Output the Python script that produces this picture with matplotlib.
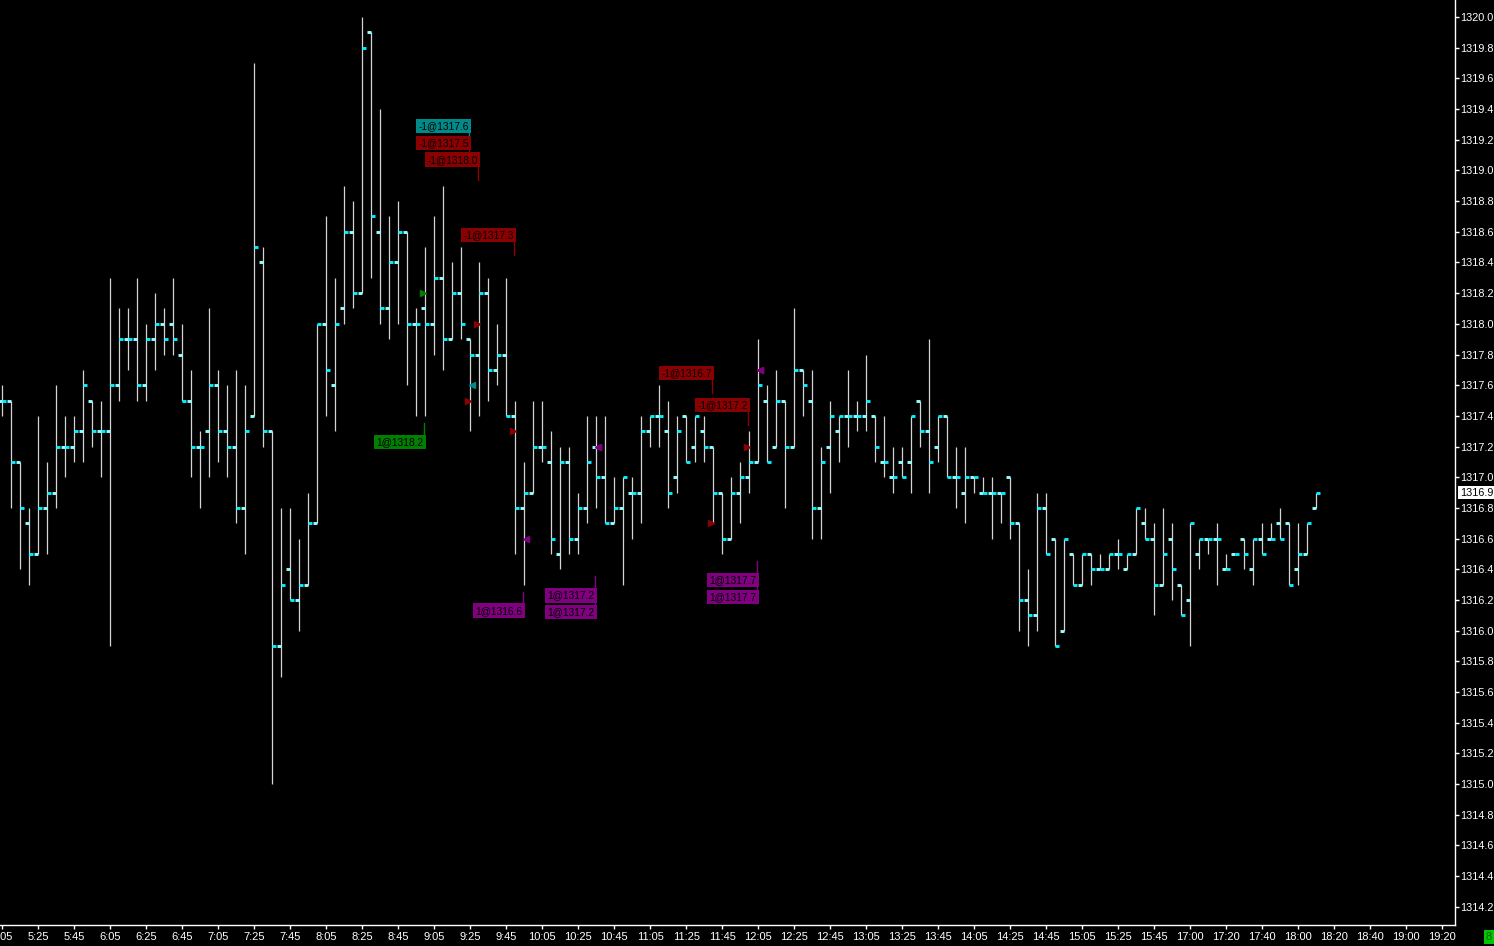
import matplotlib

matplotlib.use("Agg")
import matplotlib.pyplot as plt  # noqa: E402
import numpy as np  # noqa: E402

plt.rcParams["font.family"] = ["Liberation Sans", "DejaVu Sans"]

# 5 minute bars
opens = [
    1317.5, 1317.5, 1317.1, 1316.7, 1316.5, 1316.8, 1316.9, 1317.2, 1317.2, 1317.3,
    1317.5, 1317.3, 1317.3, 1317.6, 1317.9, 1317.9, 1317.6, 1317.9, 1318.0, 1318.0,
    1317.8, 1317.5, 1317.2, 1317.3, 1317.6, 1317.3, 1317.2, 1316.8, 1317.4, 1318.4,
    1317.3, 1315.9, 1316.4, 1316.2, 1316.3, 1316.7, 1318.0, 1317.6, 1318.1, 1318.6,
    1318.2, 1319.9, 1318.6, 1318.1, 1318.4, 1318.6, 1318.0, 1318.1, 1318.0, 1318.3,
    1317.9, 1318.2, 1317.9, 1317.8, 1318.2, 1317.7, 1317.8, 1317.4, 1316.8, 1316.9,
    1317.2, 1317.1, 1316.5, 1317.1, 1316.6, 1316.8, 1317.2, 1317.0, 1316.7, 1316.8,
    1316.9, 1316.9, 1317.3, 1317.4, 1317.3, 1317.0, 1317.4, 1317.2, 1317.3, 1317.2,
    1316.9, 1316.6, 1316.9, 1317.0, 1317.1, 1317.5, 1317.2, 1317.5, 1317.2, 1317.7,
    1317.5, 1316.8, 1317.2, 1317.3, 1317.4, 1317.4, 1317.4, 1317.4, 1317.1, 1317.0,
    1317.1, 1317.1, 1317.5, 1317.3, 1317.2, 1317.4, 1317.0, 1316.9, 1317.0, 1316.9,
    1316.9, 1316.9, 1317.0, 1316.7, 1316.2, 1316.1, 1316.8, 1316.6, 1316.0, 1316.5,
    1316.3, 1316.5, 1316.4, 1316.4, 1316.5, 1316.4, 1316.5, 1316.7, 1316.6, 1316.3,
    1316.6, 1316.3, 1316.2, 1316.5, 1316.6, 1316.6, 1316.4, 1316.5, 1316.6, 1316.4,
    1316.6, 1316.6, 1316.7, 1316.7, 1316.4, 1316.5, 1316.8,
]
highs = [
    1317.6, 1317.5, 1317.1, 1316.8, 1317.4, 1317.1, 1317.6, 1317.4, 1317.4, 1317.7,
    1317.5, 1317.5, 1318.3, 1318.1, 1318.1, 1318.3, 1318.0, 1318.2, 1318.1, 1318.3,
    1318.0, 1317.7, 1317.3, 1318.1, 1317.7, 1317.6, 1317.7, 1317.6, 1319.7, 1318.5,
    1317.3, 1316.8, 1316.8, 1316.6, 1316.9, 1318.0, 1318.7, 1318.3, 1318.9, 1318.8,
    1320.0, 1319.9, 1319.4, 1318.7, 1318.8, 1318.6, 1318.1, 1318.5, 1318.7, 1318.9,
    1318.4, 1318.5, 1317.9, 1318.4, 1318.3, 1318.0, 1318.3, 1317.5, 1317.1, 1317.5,
    1317.5, 1317.3, 1317.2, 1317.2, 1316.9, 1317.4, 1317.4, 1317.4, 1317.0, 1317.0,
    1317.0, 1317.4, 1317.4, 1317.6, 1317.5, 1317.4, 1317.4, 1317.4, 1317.4, 1317.2,
    1316.9, 1317.0, 1317.1, 1317.3, 1317.9, 1317.6, 1317.7, 1317.5, 1318.1, 1317.7,
    1317.7, 1317.2, 1317.5, 1317.4, 1317.7, 1317.5, 1317.8, 1317.4, 1317.4, 1317.2,
    1317.2, 1317.4, 1317.5, 1317.9, 1317.4, 1317.4, 1317.2, 1317.2, 1317.0, 1317.0,
    1317.0, 1316.9, 1317.0, 1316.7, 1316.4, 1316.9, 1316.9, 1316.6, 1316.6, 1316.5,
    1316.5, 1316.5, 1316.5, 1316.5, 1316.6, 1316.5, 1316.8, 1316.8, 1316.7, 1316.8,
    1316.7, 1316.3, 1316.7, 1316.6, 1316.6, 1316.7, 1316.5, 1316.5, 1316.6, 1316.6,
    1316.7, 1316.7, 1316.8, 1316.7, 1316.7, 1316.7, 1316.9,
]
lows = [
    1317.4, 1316.8, 1316.4, 1316.3, 1316.5, 1316.5, 1316.8, 1317.0, 1317.1, 1317.1,
    1317.2, 1317.0, 1315.9, 1317.5, 1317.7, 1317.5, 1317.5, 1317.7, 1317.8, 1317.8,
    1317.5, 1317.0, 1316.8, 1317.0, 1317.1, 1317.0, 1316.7, 1316.5, 1317.4, 1317.2,
    1315.0, 1315.7, 1316.2, 1316.0, 1316.3, 1316.7, 1317.4, 1317.3, 1318.0, 1318.1,
    1318.2, 1318.3, 1318.0, 1317.9, 1318.0, 1317.6, 1317.4, 1317.4, 1317.8, 1317.7,
    1317.9, 1317.9, 1317.3, 1317.4, 1317.5, 1317.6, 1317.4, 1316.5, 1316.3, 1316.9,
    1317.1, 1316.5, 1316.4, 1316.5, 1316.5, 1316.7, 1316.8, 1316.7, 1316.7, 1316.3,
    1316.6, 1316.7, 1317.2, 1317.2, 1316.8, 1316.9, 1317.1, 1317.1, 1317.1, 1316.7,
    1316.5, 1316.6, 1316.7, 1316.9, 1317.1, 1317.1, 1317.2, 1316.8, 1317.2, 1317.4,
    1316.6, 1316.6, 1316.9, 1317.1, 1317.2, 1317.3, 1317.3, 1317.1, 1317.0, 1316.9,
    1317.0, 1316.9, 1317.2, 1316.9, 1317.1, 1317.0, 1316.8, 1316.7, 1316.9, 1316.9,
    1316.6, 1316.7, 1316.6, 1316.0, 1315.9, 1316.0, 1316.5, 1315.9, 1316.0, 1316.3,
    1316.3, 1316.3, 1316.4, 1316.4, 1316.4, 1316.4, 1316.5, 1316.6, 1316.1, 1316.3,
    1316.2, 1316.1, 1315.9, 1316.4, 1316.5, 1316.3, 1316.4, 1316.5, 1316.4, 1316.3,
    1316.5, 1316.6, 1316.6, 1316.3, 1316.3, 1316.5, 1316.8,
]
closes = [
    1317.5, 1317.1, 1316.8, 1316.5, 1316.8, 1316.9, 1317.2, 1317.2, 1317.3, 1317.6,
    1317.3, 1317.3, 1317.6, 1317.9, 1317.9, 1317.6, 1317.9, 1318.0, 1317.9, 1317.9,
    1317.5, 1317.2, 1317.2, 1317.6, 1317.3, 1317.2, 1316.8, 1317.3, 1318.5, 1317.3,
    1315.9, 1316.3, 1316.2, 1316.3, 1316.7, 1318.0, 1317.7, 1318.0, 1318.6, 1318.2,
    1319.8, 1318.7, 1318.1, 1318.4, 1318.6, 1318.0, 1318.0, 1318.0, 1318.3, 1317.9,
    1318.2, 1318.0, 1317.8, 1318.2, 1317.7, 1317.8, 1317.4, 1316.8, 1316.9, 1317.2,
    1317.2, 1316.6, 1317.1, 1316.6, 1316.8, 1317.1, 1317.0, 1316.7, 1316.8, 1317.0,
    1316.9, 1317.3, 1317.4, 1317.4, 1316.9, 1317.3, 1317.1, 1317.4, 1317.2, 1316.9,
    1316.6, 1316.9, 1317.0, 1317.1, 1317.6, 1317.1, 1317.5, 1317.2, 1317.7, 1317.6,
    1316.8, 1317.1, 1317.4, 1317.4, 1317.4, 1317.4, 1317.5, 1317.2, 1317.1, 1317.0,
    1317.0, 1317.4, 1317.3, 1317.1, 1317.4, 1317.0, 1317.0, 1317.0, 1317.0, 1316.9,
    1316.9, 1316.9, 1316.7, 1316.2, 1316.1, 1316.8, 1316.5, 1315.9, 1316.6, 1316.3,
    1316.5, 1316.4, 1316.4, 1316.5, 1316.5, 1316.5, 1316.8, 1316.6, 1316.3, 1316.5,
    1316.4, 1316.1, 1316.7, 1316.6, 1316.6, 1316.6, 1316.4, 1316.5, 1316.5, 1316.6,
    1316.5, 1316.6, 1316.6, 1316.3, 1316.5, 1316.7, 1316.9,
]
last_price = 1316.9

time_labels = [
    "5:05", "5:25", "5:45", "6:05", "6:25", "6:45", "7:05", "7:25", "7:45", "8:05",
    "8:25", "8:45", "9:05", "9:25", "9:45", "10:05", "10:25", "10:45", "11:05",
    "11:25", "11:45", "12:05", "12:25", "12:45", "13:05", "13:25", "13:45", "14:05",
    "14:25", "14:45", "15:05", "15:25", "15:45", "17:00", "17:20", "17:40", "18:00",
    "18:20", "18:40", "19:00", "19:20",
]
time_label_bars = list(range(0, 4 * len(time_labels), 4))

# executions: bar, price, label text, label level, colour, marker
trade_bar = [52, 52, 53, 57, 47, 58, 66, 66, 79, 83, 84, 84]
trade_price = [1317.6, 1317.5, 1318.0, 1317.3, 1318.2, 1316.6,
               1317.2, 1317.2, 1316.7, 1317.2, 1317.7, 1317.7]
trade_text = ["-1@1317.6", "-1@1317.5", "-1@1318.0", "-1@1317.3", "1@1318.2", "1@1316.6",
              "1@1317.2", "1@1317.2", "-1@1316.7", "-1@1317.2", "1@1317.7", "1@1317.7"]
trade_label_y = [1319.29, 1319.18, 1319.07, 1318.58, 1317.23, 1316.13,
                 1316.23, 1316.12, 1317.68, 1317.47, 1316.33, 1316.22]
trade_color = ["#008b8b", "#8b0000", "#8b0000", "#8b0000", "#008000", "#800080",
               "#800080", "#800080", "#8b0000", "#8b0000", "#800080", "#800080"]
trade_marker = ["<", ">", ">", ">", ">", "<", "<", "<", ">", ">", "<", "<"]

W, H = 1494, 946
fig = plt.figure(figsize=(W / 100, H / 100), dpi=100, facecolor="black")
ax = fig.add_axes([0, 21 / H, 1455 / W, 925 / H], facecolor="black")

ylo, yhi = 1314.081, 1320.111
xlo, xhi = -0.256, 161.41
px_y = (yhi - ylo) / 925  # price per pixel
px_x = 1 / 9  # bars per pixel

idx = np.arange(len(opens))
ax.vlines(idx, lows, highs, color="#d4d4d4", lw=0.9, zorder=2)
ax.hlines(opens, idx - 0.45, idx, color="#90ffff", lw=2.1, zorder=3)
ax.hlines(closes, idx, idx + 0.45, color="#00f0ff", lw=2.1, zorder=3)

# trade markers
for b, p, c, m in zip(trade_bar, trade_price, trade_color, trade_marker):
    dx = -2.6 * px_x if m == ">" else 1.8 * px_x
    ax.plot(b + dx, p, marker=m, color=c, markersize=5, ls="none", zorder=4)

# trade labels with their small leader lines
for b, p, ly, c in zip(trade_bar, trade_price, trade_label_y, trade_color):
    lx = b - 1 * px_x
    if p < ly:  # label above the price: leader goes down
        y0 = ly - 7 * px_y
        y1 = y0 - 13 * px_y
    else:
        y0 = ly + 7 * px_y
        y1 = y0 + 12 * px_y
    ax.plot([lx, lx], [y0, y1], color=c, lw=1, zorder=4)
for b, t, ly, c in zip(trade_bar, trade_text, trade_label_y, trade_color):
    ax.annotate(
        t, xy=(b, ly), xytext=(-1.5, 0), textcoords="offset pixels",
        ha="right", va="center", fontsize=7.4, color="black", zorder=5,
        bbox=dict(boxstyle="square,pad=0.22", fc=c, ec="none"),
    )

ax.set_xlim(xlo, xhi)
ax.set_ylim(ylo, yhi)

ax.set_xticks(time_label_bars)
ax.set_xticklabels(time_labels)
ax.set_yticks(np.round(np.arange(1314.2, 1320.01, 0.2), 1))
ax.yaxis.set_major_formatter(plt.FormatStrFormatter("%.1f"))
ax.yaxis.tick_right()
ax.tick_params(axis="both", colors="white", labelcolor="white", labelsize=8,
               length=2.9, width=1, direction="out")
ax.tick_params(axis="x", pad=2)
ax.tick_params(axis="y", pad=1, labelsize=7.8)

for side in ["top", "left"]:
    ax.spines[side].set_visible(False)
for side in ["right", "bottom"]:
    ax.spines[side].set_color("white")
    ax.spines[side].set_linewidth(1)

# last price box on the price scale
ax.annotate(
    f"{last_price:.1f}", xy=(1, last_price), xycoords=("axes fraction", "data"),
    xytext=(5, 0), textcoords="offset pixels", ha="left", va="center",
    fontsize=7.8, color="black", annotation_clip=False,
    bbox=dict(boxstyle="square,pad=0.15", fc="white", ec="none"),
)
fig.text(1 - 5 / W, 9 / H, "8", ha="center", va="center", fontsize=8, color="#006000",
         bbox=dict(boxstyle="square,pad=0.15", fc="#00c800", ec="none"))

fig.savefig("out.png", dpi=100, facecolor="black")
